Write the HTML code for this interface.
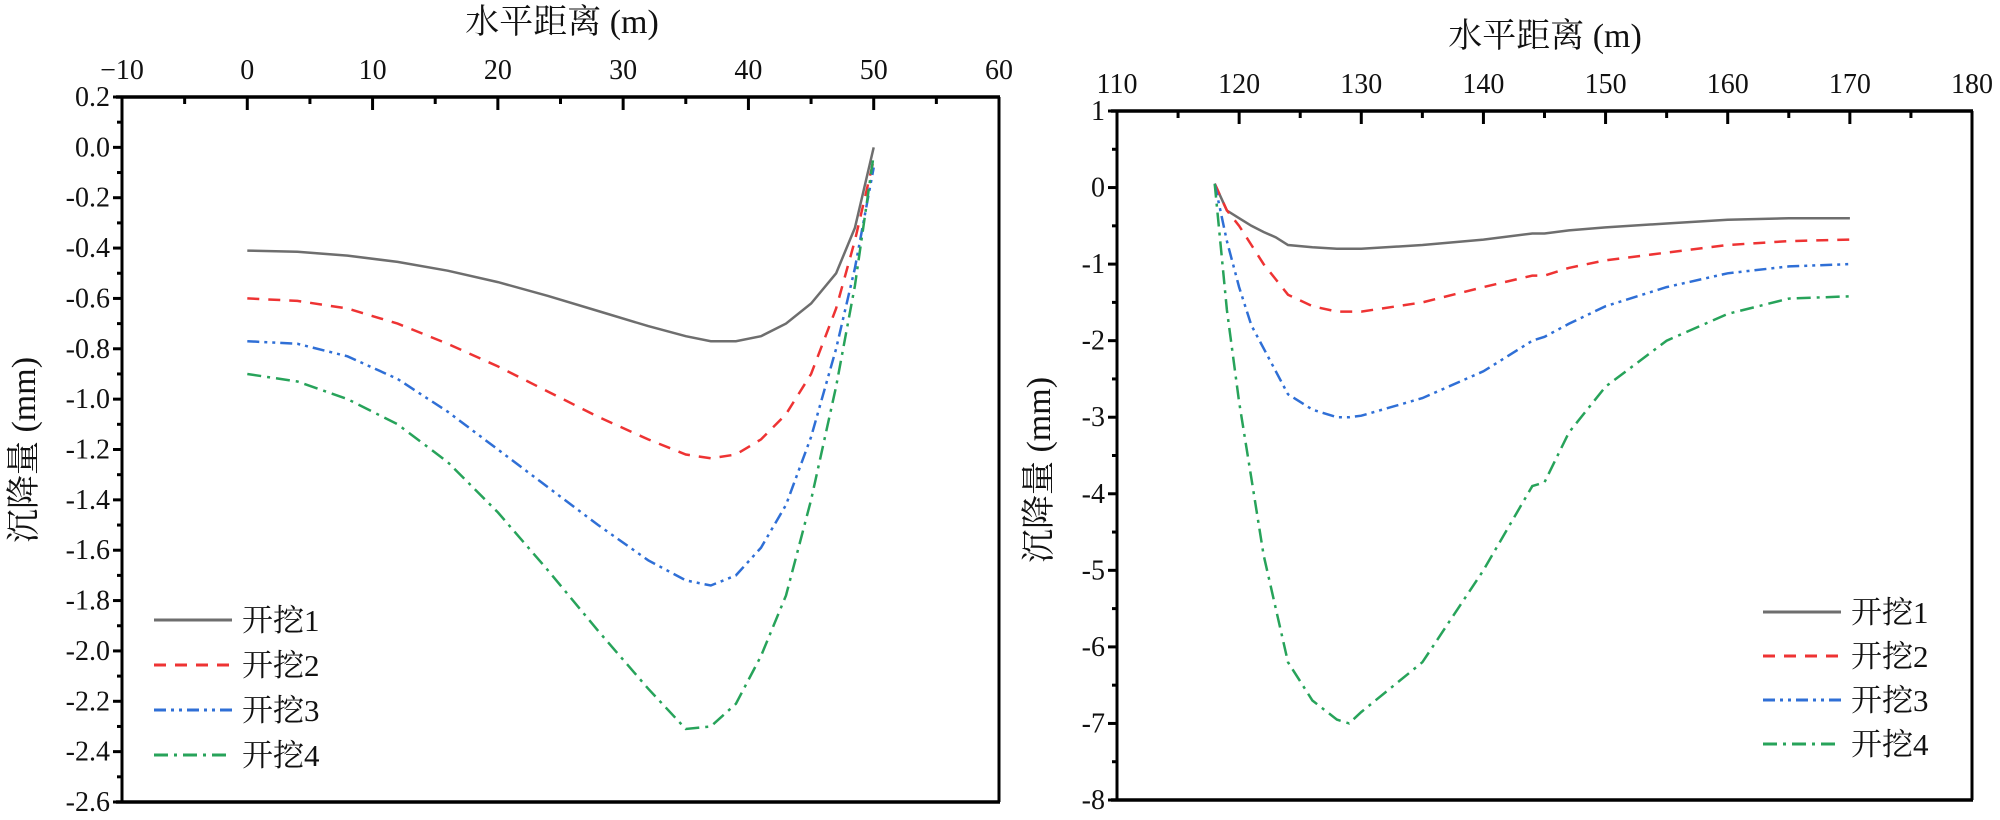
<!DOCTYPE html>
<html><head><meta charset="utf-8">
<style>
html,body{margin:0;padding:0;background:#fff;}
svg{display:block;}
svg text{font-family:"Liberation Serif","Noto Serif CJK SC",serif;fill:#111;}
</style></head>
<body>
<svg id="chart" width="2000" height="820" viewBox="0 0 2000 820" xmlns="http://www.w3.org/2000/svg" font-family="'Liberation Serif','Noto Serif CJK SC',serif"></svg>
<script>
// ---- Left chart data ----
const leftX = [0,4,8,12,16,20,24,28,32,35,37,39,41,43,45,47,48.5,50];
const leftS1 = [-0.41,-0.415,-0.43,-0.455,-0.49,-0.535,-0.59,-0.65,-0.71,-0.75,-0.77,-0.77,-0.75,-0.70,-0.62,-0.50,-0.32,0.0];
const leftS2 = [-0.60,-0.61,-0.64,-0.70,-0.78,-0.87,-0.97,-1.07,-1.16,-1.22,-1.235,-1.22,-1.16,-1.06,-0.90,-0.64,-0.37,-0.05];
const leftS3 = [-0.77,-0.78,-0.83,-0.92,-1.05,-1.20,-1.35,-1.50,-1.64,-1.72,-1.74,-1.70,-1.59,-1.42,-1.15,-0.80,-0.48,-0.08];
const leftS4 = [-0.90,-0.93,-1.00,-1.10,-1.25,-1.45,-1.68,-1.92,-2.15,-2.31,-2.30,-2.21,-2.02,-1.78,-1.40,-0.95,-0.55,-0.03];
const leftXTicks = [-10,0,10,20,30,40,50,60];
const leftYTicks = [0.2,0.0,-0.2,-0.4,-0.6,-0.8,-1.0,-1.2,-1.4,-1.6,-1.8,-2.0,-2.2,-2.4,-2.6];
// ---- Right chart data ----
const rightX = [118,119,120,121,122,123,124,126,128,129,130,135,140,144,145,147,150,155,160,165,170];
const rightS1 = [0.05,-0.3,-0.4,-0.5,-0.58,-0.65,-0.75,-0.78,-0.8,-0.8,-0.8,-0.75,-0.68,-0.6,-0.6,-0.56,-0.52,-0.47,-0.42,-0.4,-0.4];
const rightS2 = [0.05,-0.3,-0.5,-0.75,-1.0,-1.2,-1.4,-1.55,-1.62,-1.62,-1.62,-1.5,-1.3,-1.15,-1.15,-1.05,-0.95,-0.85,-0.75,-0.7,-0.68];
const rightS3 = [0.05,-0.7,-1.3,-1.8,-2.1,-2.4,-2.7,-2.9,-3.0,-3.0,-2.98,-2.75,-2.4,-2.0,-1.95,-1.78,-1.55,-1.3,-1.12,-1.03,-1.0];
const rightS4 = [0.05,-1.6,-2.8,-3.8,-4.8,-5.5,-6.2,-6.7,-6.95,-7.0,-6.85,-6.2,-5.0,-3.9,-3.85,-3.2,-2.6,-2.0,-1.65,-1.45,-1.42];
const rightXTicks = [110,120,130,140,150,160,170,180];
const rightYTicks = [1,0,-1,-2,-3,-4,-5,-6,-7,-8];
const seriesNames = ['开挖1','开挖2','开挖3','开挖4'];
const seriesColors = ['#6e6e6e','#ee3333','#2f6fd6','#27a35a'];
const seriesDash = ['', '12 9', '12 5 3 5 3 5', '14 6 3 6'];

const NS='http://www.w3.org/2000/svg';
const FONT="'Liberation Serif','Noto Serif CJK SC','Noto Serif CJK JP',serif";
const svg=document.getElementById('chart');
function mk(tag,attrs,parent){const e=document.createElementNS(NS,tag);for(const k in attrs)e.setAttribute(k,attrs[k]);(parent||svg).appendChild(e);return e;}

function drawChart(cfg){
  const g=mk('g',{});
  
  
  const sx=v=>cfg.x0+(v-cfg.xmin)/(cfg.xmax-cfg.xmin)*(cfg.x1-cfg.x0);
  const sy=v=>cfg.y0+(cfg.ymax-v)/(cfg.ymax-cfg.ymin)*(cfg.y1-cfg.y0);
  cfg.series.forEach((s,i)=>{
    const d=cfg.xs.map((x,j)=>(j?'L':'M')+sx(x).toFixed(1)+' '+sy(s[j]).toFixed(1)).join(' ');
    const p=mk('path',{d:d,fill:'none',stroke:seriesColors[i],'stroke-width':2.5,'stroke-dasharray':seriesDash[i]},g);
    
    
  });
  const ax=mk('g',{stroke:'#000',fill:'none'},g);
  
  
  mk('line',{x1:cfg.x0-6,y1:cfg.y0,x2:cfg.x1+1,y2:cfg.y0,'stroke-width':3.5},ax);
  mk('line',{x1:cfg.x0-6,y1:cfg.y1,x2:cfg.x1+1,y2:cfg.y1,'stroke-width':3.5},ax);
  mk('line',{x1:cfg.x0,y1:cfg.y0,x2:cfg.x0,y2:cfg.y1,'stroke-width':3},ax);
  mk('line',{x1:cfg.x1,y1:cfg.y0,x2:cfg.x1,y2:cfg.y1,'stroke-width':3},ax);
  cfg.xTicks.forEach((t,i)=>{
    const x=sx(t);
    if(i>0&&i<cfg.xTicks.length-1) mk('line',{x1:x,y1:cfg.y0,x2:x,y2:cfg.y0+13,'stroke-width':3},ax);
    if(i<cfg.xTicks.length-1){const xm=sx(t+(cfg.xTicks[1]-cfg.xTicks[0])/2);mk('line',{x1:xm,y1:cfg.y0,x2:xm,y2:cfg.y0+7,'stroke-width':3},ax);}
    const tx=mk('text',{x:x,y:cfg.y0-18,'text-anchor':'middle','font-size':28,'font-family':FONT},g);
    tx.textContent=(t<0?'\u2212':'')+Math.abs(t);
    
    
  });
  cfg.yTicks.forEach((t,i)=>{
    const y=sy(t);
    mk('line',{x1:cfg.x0-9,y1:y,x2:cfg.x0,y2:y,'stroke-width':3},ax);
    if(i<cfg.yTicks.length-1){const ym=sy(t+(cfg.yTicks[1]-cfg.yTicks[0])/2);mk('line',{x1:cfg.x0-5,y1:ym,x2:cfg.x0,y2:ym,'stroke-width':3},ax);}
    const tx=mk('text',{x:cfg.x0-12,y:y+9,'text-anchor':'end','font-size':28,'font-family':FONT},g);
    tx.textContent=cfg.fmt(t);
    
    
  });
  const xt=mk('text',{x:cfg.xtX,y:cfg.xtY,'text-anchor':'middle','font-size':34,'font-family':FONT},g);
  xt.textContent='水平距离 (m)';
  
  
  const yt=mk('text',{x:0,y:0,'text-anchor':'middle','font-size':34,'font-family':FONT,transform:`translate(${cfg.ytX},${cfg.ytY}) rotate(-90)`},g);
  yt.textContent='沉降量 (mm)';
  
  
  const lg=mk('g',{},g);
  
  
  seriesNames.forEach((n,i)=>{
    const y=cfg.legY+i*cfg.legStep;
    const e=mk('g',{},lg);
    
    
    mk('line',{x1:cfg.legX,y1:y,x2:cfg.legX+78,y2:y,stroke:seriesColors[i],'stroke-width':3,'stroke-dasharray':seriesDash[i]},e);
    const t=mk('text',{x:cfg.legX+88,y:y+11,'font-size':31,'font-family':FONT},e);
    t.textContent=n;
  });
}

drawChart({name:'left-chart',x0:122,x1:999,y0:97,y1:802,xmin:-10,xmax:60,ymin:-2.6,ymax:0.2,
  xs:leftX,series:[leftS1,leftS2,leftS3,leftS4],xTicks:leftXTicks,yTicks:leftYTicks,
  fmt:t=>(t<0?'-':'')+Math.abs(t).toFixed(1),
  xtX:562,xtY:33,ytX:35,ytY:450,legX:154,legY:620,legStep:45});
drawChart({name:'right-chart',x0:1117,x1:1972,y0:111,y1:800,xmin:110,xmax:180,ymin:-8,ymax:1,
  xs:rightX,series:[rightS1,rightS2,rightS3,rightS4],xTicks:rightXTicks,yTicks:rightYTicks,
  fmt:t=>String(t),
  xtX:1545,xtY:47,ytX:1050,ytY:470,legX:1763,legY:612,legStep:44});
</script>
</body></html>
